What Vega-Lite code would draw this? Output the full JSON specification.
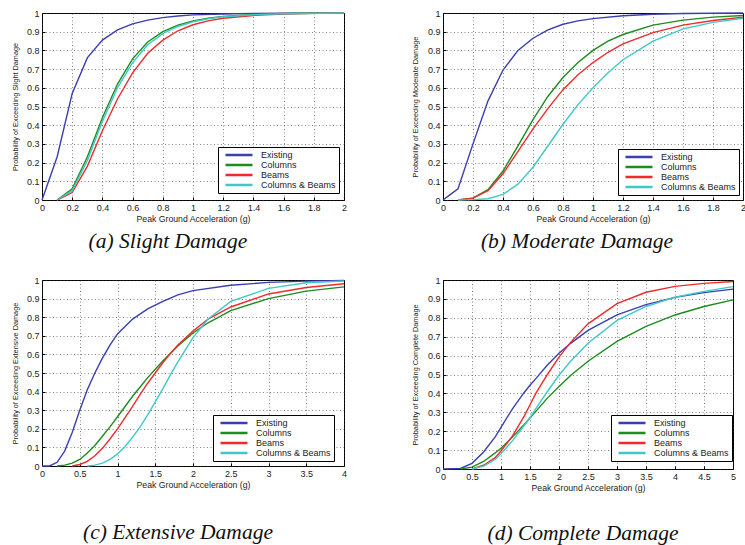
{
  "$schema": "https://vega.github.io/schema/vega-lite/v6.json",
  "background": "white",
  "padding": {"left": 10, "top": 8, "right": 0, "bottom": 0},
  "columns": 2,
  "align": "none",
  "spacing": {"row": 22, "column": 63},
  "datasets": {
    "a": [
      {"x":0,"p":0,"s":"Existing"},{"x":0.1,"p":0.23,"s":"Existing"},{"x":0.2,"p":0.57,"s":"Existing"},{"x":0.3,"p":0.76,"s":"Existing"},{"x":0.4,"p":0.855,"s":"Existing"},{"x":0.5,"p":0.91,"s":"Existing"},{"x":0.6,"p":0.942,"s":"Existing"},{"x":0.7,"p":0.962,"s":"Existing"},{"x":0.8,"p":0.975,"s":"Existing"},{"x":0.9,"p":0.984,"s":"Existing"},{"x":1.0,"p":0.99,"s":"Existing"},{"x":1.2,"p":0.995,"s":"Existing"},{"x":1.4,"p":0.998,"s":"Existing"},{"x":1.6,"p":0.999,"s":"Existing"},{"x":2.0,"p":1.0,"s":"Existing"},
      {"x":0.1,"p":0,"s":"Columns"},{"x":0.2,"p":0.06,"s":"Columns"},{"x":0.3,"p":0.23,"s":"Columns"},{"x":0.4,"p":0.44,"s":"Columns"},{"x":0.5,"p":0.62,"s":"Columns"},{"x":0.6,"p":0.755,"s":"Columns"},{"x":0.7,"p":0.845,"s":"Columns"},{"x":0.8,"p":0.9,"s":"Columns"},{"x":0.9,"p":0.935,"s":"Columns"},{"x":1.0,"p":0.957,"s":"Columns"},{"x":1.1,"p":0.972,"s":"Columns"},{"x":1.2,"p":0.982,"s":"Columns"},{"x":1.4,"p":0.992,"s":"Columns"},{"x":1.6,"p":0.997,"s":"Columns"},{"x":2.0,"p":1.0,"s":"Columns"},
      {"x":0.1,"p":0,"s":"Beams"},{"x":0.2,"p":0.04,"s":"Beams"},{"x":0.3,"p":0.18,"s":"Beams"},{"x":0.4,"p":0.37,"s":"Beams"},{"x":0.5,"p":0.54,"s":"Beams"},{"x":0.6,"p":0.68,"s":"Beams"},{"x":0.7,"p":0.785,"s":"Beams"},{"x":0.8,"p":0.855,"s":"Beams"},{"x":0.9,"p":0.905,"s":"Beams"},{"x":1.0,"p":0.937,"s":"Beams"},{"x":1.1,"p":0.958,"s":"Beams"},{"x":1.2,"p":0.972,"s":"Beams"},{"x":1.4,"p":0.987,"s":"Beams"},{"x":1.6,"p":0.994,"s":"Beams"},{"x":1.8,"p":0.998,"s":"Beams"},{"x":2.0,"p":1.0,"s":"Beams"},
      {"x":0.1,"p":0,"s":"Columns & Beams"},{"x":0.2,"p":0.05,"s":"Columns & Beams"},{"x":0.3,"p":0.21,"s":"Columns & Beams"},{"x":0.4,"p":0.42,"s":"Columns & Beams"},{"x":0.5,"p":0.6,"s":"Columns & Beams"},{"x":0.6,"p":0.735,"s":"Columns & Beams"},{"x":0.7,"p":0.83,"s":"Columns & Beams"},{"x":0.8,"p":0.89,"s":"Columns & Beams"},{"x":0.9,"p":0.928,"s":"Columns & Beams"},{"x":1.0,"p":0.953,"s":"Columns & Beams"},{"x":1.1,"p":0.969,"s":"Columns & Beams"},{"x":1.2,"p":0.98,"s":"Columns & Beams"},{"x":1.4,"p":0.991,"s":"Columns & Beams"},{"x":1.6,"p":0.996,"s":"Columns & Beams"},{"x":2.0,"p":1.0,"s":"Columns & Beams"}
    ],
    "b": [
      {"x":0,"p":0,"s":"Existing"},{"x":0.05,"p":0.03,"s":"Existing"},{"x":0.1,"p":0.06,"s":"Existing"},{"x":0.2,"p":0.3,"s":"Existing"},{"x":0.3,"p":0.53,"s":"Existing"},{"x":0.4,"p":0.695,"s":"Existing"},{"x":0.5,"p":0.8,"s":"Existing"},{"x":0.6,"p":0.865,"s":"Existing"},{"x":0.7,"p":0.91,"s":"Existing"},{"x":0.8,"p":0.94,"s":"Existing"},{"x":0.9,"p":0.958,"s":"Existing"},{"x":1.0,"p":0.97,"s":"Existing"},{"x":1.2,"p":0.985,"s":"Existing"},{"x":1.4,"p":0.993,"s":"Existing"},{"x":1.6,"p":0.997,"s":"Existing"},{"x":2.0,"p":1.0,"s":"Existing"},
      {"x":0.1,"p":0,"s":"Columns"},{"x":0.2,"p":0.01,"s":"Columns"},{"x":0.3,"p":0.055,"s":"Columns"},{"x":0.4,"p":0.155,"s":"Columns"},{"x":0.5,"p":0.29,"s":"Columns"},{"x":0.6,"p":0.43,"s":"Columns"},{"x":0.7,"p":0.555,"s":"Columns"},{"x":0.8,"p":0.655,"s":"Columns"},{"x":0.9,"p":0.735,"s":"Columns"},{"x":1.0,"p":0.8,"s":"Columns"},{"x":1.1,"p":0.85,"s":"Columns"},{"x":1.2,"p":0.885,"s":"Columns"},{"x":1.4,"p":0.935,"s":"Columns"},{"x":1.6,"p":0.962,"s":"Columns"},{"x":1.8,"p":0.978,"s":"Columns"},{"x":2.0,"p":0.987,"s":"Columns"},
      {"x":0.1,"p":0,"s":"Beams"},{"x":0.2,"p":0.01,"s":"Beams"},{"x":0.3,"p":0.05,"s":"Beams"},{"x":0.4,"p":0.14,"s":"Beams"},{"x":0.5,"p":0.26,"s":"Beams"},{"x":0.6,"p":0.38,"s":"Beams"},{"x":0.7,"p":0.49,"s":"Beams"},{"x":0.8,"p":0.59,"s":"Beams"},{"x":0.9,"p":0.67,"s":"Beams"},{"x":1.0,"p":0.735,"s":"Beams"},{"x":1.1,"p":0.79,"s":"Beams"},{"x":1.2,"p":0.835,"s":"Beams"},{"x":1.4,"p":0.895,"s":"Beams"},{"x":1.6,"p":0.935,"s":"Beams"},{"x":1.8,"p":0.96,"s":"Beams"},{"x":2.0,"p":0.977,"s":"Beams"},
      {"x":0.1,"p":0,"s":"Columns & Beams"},{"x":0.2,"p":0.002,"s":"Columns & Beams"},{"x":0.3,"p":0.007,"s":"Columns & Beams"},{"x":0.4,"p":0.03,"s":"Columns & Beams"},{"x":0.5,"p":0.085,"s":"Columns & Beams"},{"x":0.6,"p":0.175,"s":"Columns & Beams"},{"x":0.7,"p":0.29,"s":"Columns & Beams"},{"x":0.8,"p":0.405,"s":"Columns & Beams"},{"x":0.9,"p":0.51,"s":"Columns & Beams"},{"x":1.0,"p":0.6,"s":"Columns & Beams"},{"x":1.1,"p":0.68,"s":"Columns & Beams"},{"x":1.2,"p":0.75,"s":"Columns & Beams"},{"x":1.4,"p":0.85,"s":"Columns & Beams"},{"x":1.6,"p":0.915,"s":"Columns & Beams"},{"x":1.8,"p":0.95,"s":"Columns & Beams"},{"x":2.0,"p":0.972,"s":"Columns & Beams"}
    ],
    "c": [
      {"x":0,"p":0,"s":"Existing"},{"x":0.1,"p":0,"s":"Existing"},{"x":0.2,"p":0.02,"s":"Existing"},{"x":0.3,"p":0.08,"s":"Existing"},{"x":0.4,"p":0.18,"s":"Existing"},{"x":0.5,"p":0.3,"s":"Existing"},{"x":0.6,"p":0.41,"s":"Existing"},{"x":0.7,"p":0.5,"s":"Existing"},{"x":0.8,"p":0.58,"s":"Existing"},{"x":0.9,"p":0.65,"s":"Existing"},{"x":1.0,"p":0.71,"s":"Existing"},{"x":1.2,"p":0.79,"s":"Existing"},{"x":1.4,"p":0.845,"s":"Existing"},{"x":1.6,"p":0.885,"s":"Existing"},{"x":1.8,"p":0.92,"s":"Existing"},{"x":2.0,"p":0.943,"s":"Existing"},{"x":2.5,"p":0.972,"s":"Existing"},{"x":3.0,"p":0.987,"s":"Existing"},{"x":3.5,"p":0.994,"s":"Existing"},{"x":4.0,"p":0.997,"s":"Existing"},
      {"x":0.2,"p":0,"s":"Columns"},{"x":0.3,"p":0.005,"s":"Columns"},{"x":0.4,"p":0.015,"s":"Columns"},{"x":0.5,"p":0.035,"s":"Columns"},{"x":0.6,"p":0.07,"s":"Columns"},{"x":0.7,"p":0.11,"s":"Columns"},{"x":0.8,"p":0.16,"s":"Columns"},{"x":0.9,"p":0.21,"s":"Columns"},{"x":1.0,"p":0.265,"s":"Columns"},{"x":1.1,"p":0.32,"s":"Columns"},{"x":1.2,"p":0.375,"s":"Columns"},{"x":1.3,"p":0.425,"s":"Columns"},{"x":1.4,"p":0.475,"s":"Columns"},{"x":1.5,"p":0.52,"s":"Columns"},{"x":1.6,"p":0.565,"s":"Columns"},{"x":1.7,"p":0.605,"s":"Columns"},{"x":1.8,"p":0.645,"s":"Columns"},{"x":2.0,"p":0.715,"s":"Columns"},{"x":2.2,"p":0.77,"s":"Columns"},{"x":2.5,"p":0.835,"s":"Columns"},{"x":3.0,"p":0.9,"s":"Columns"},{"x":3.5,"p":0.94,"s":"Columns"},{"x":4.0,"p":0.963,"s":"Columns"},
      {"x":0.4,"p":0,"s":"Beams"},{"x":0.5,"p":0.008,"s":"Beams"},{"x":0.6,"p":0.025,"s":"Beams"},{"x":0.7,"p":0.055,"s":"Beams"},{"x":0.8,"p":0.095,"s":"Beams"},{"x":0.9,"p":0.145,"s":"Beams"},{"x":1.0,"p":0.2,"s":"Beams"},{"x":1.1,"p":0.26,"s":"Beams"},{"x":1.2,"p":0.32,"s":"Beams"},{"x":1.3,"p":0.385,"s":"Beams"},{"x":1.4,"p":0.445,"s":"Beams"},{"x":1.5,"p":0.5,"s":"Beams"},{"x":1.6,"p":0.555,"s":"Beams"},{"x":1.7,"p":0.605,"s":"Beams"},{"x":1.8,"p":0.65,"s":"Beams"},{"x":2.0,"p":0.725,"s":"Beams"},{"x":2.2,"p":0.79,"s":"Beams"},{"x":2.5,"p":0.855,"s":"Beams"},{"x":3.0,"p":0.925,"s":"Beams"},{"x":3.5,"p":0.96,"s":"Beams"},{"x":4.0,"p":0.98,"s":"Beams"},
      {"x":0.6,"p":0,"s":"Columns & Beams"},{"x":0.7,"p":0.005,"s":"Columns & Beams"},{"x":0.8,"p":0.015,"s":"Columns & Beams"},{"x":0.9,"p":0.035,"s":"Columns & Beams"},{"x":1.0,"p":0.065,"s":"Columns & Beams"},{"x":1.1,"p":0.105,"s":"Columns & Beams"},{"x":1.2,"p":0.155,"s":"Columns & Beams"},{"x":1.3,"p":0.21,"s":"Columns & Beams"},{"x":1.4,"p":0.275,"s":"Columns & Beams"},{"x":1.5,"p":0.345,"s":"Columns & Beams"},{"x":1.6,"p":0.415,"s":"Columns & Beams"},{"x":1.7,"p":0.49,"s":"Columns & Beams"},{"x":1.8,"p":0.56,"s":"Columns & Beams"},{"x":2.0,"p":0.69,"s":"Columns & Beams"},{"x":2.2,"p":0.79,"s":"Columns & Beams"},{"x":2.5,"p":0.885,"s":"Columns & Beams"},{"x":3.0,"p":0.955,"s":"Columns & Beams"},{"x":3.5,"p":0.985,"s":"Columns & Beams"},{"x":4.0,"p":0.995,"s":"Columns & Beams"}
    ],
    "d": [
      {"x":0,"p":0,"s":"Existing"},{"x":0.3,"p":0.003,"s":"Existing"},{"x":0.5,"p":0.03,"s":"Existing"},{"x":0.7,"p":0.09,"s":"Existing"},{"x":0.9,"p":0.17,"s":"Existing"},{"x":1.0,"p":0.22,"s":"Existing"},{"x":1.2,"p":0.32,"s":"Existing"},{"x":1.4,"p":0.405,"s":"Existing"},{"x":1.5,"p":0.443,"s":"Existing"},{"x":1.6,"p":0.478,"s":"Existing"},{"x":1.8,"p":0.55,"s":"Existing"},{"x":2.0,"p":0.612,"s":"Existing"},{"x":2.2,"p":0.665,"s":"Existing"},{"x":2.5,"p":0.733,"s":"Existing"},{"x":3.0,"p":0.815,"s":"Existing"},{"x":3.5,"p":0.87,"s":"Existing"},{"x":4.0,"p":0.908,"s":"Existing"},{"x":4.5,"p":0.933,"s":"Existing"},{"x":5.0,"p":0.952,"s":"Existing"},
      {"x":0.3,"p":0,"s":"Columns"},{"x":0.5,"p":0.01,"s":"Columns"},{"x":0.7,"p":0.04,"s":"Columns"},{"x":0.9,"p":0.085,"s":"Columns"},{"x":1.0,"p":0.11,"s":"Columns"},{"x":1.2,"p":0.17,"s":"Columns"},{"x":1.4,"p":0.235,"s":"Columns"},{"x":1.5,"p":0.27,"s":"Columns"},{"x":1.6,"p":0.305,"s":"Columns"},{"x":1.8,"p":0.375,"s":"Columns"},{"x":2.0,"p":0.437,"s":"Columns"},{"x":2.2,"p":0.495,"s":"Columns"},{"x":2.5,"p":0.57,"s":"Columns"},{"x":3.0,"p":0.675,"s":"Columns"},{"x":3.5,"p":0.755,"s":"Columns"},{"x":4.0,"p":0.815,"s":"Columns"},{"x":4.5,"p":0.86,"s":"Columns"},{"x":5.0,"p":0.895,"s":"Columns"},
      {"x":0.5,"p":0,"s":"Beams"},{"x":0.7,"p":0.02,"s":"Beams"},{"x":0.9,"p":0.06,"s":"Beams"},{"x":1.0,"p":0.095,"s":"Beams"},{"x":1.2,"p":0.175,"s":"Beams"},{"x":1.4,"p":0.28,"s":"Beams"},{"x":1.5,"p":0.34,"s":"Beams"},{"x":1.6,"p":0.4,"s":"Beams"},{"x":1.8,"p":0.5,"s":"Beams"},{"x":2.0,"p":0.592,"s":"Beams"},{"x":2.2,"p":0.67,"s":"Beams"},{"x":2.5,"p":0.768,"s":"Beams"},{"x":3.0,"p":0.875,"s":"Beams"},{"x":3.5,"p":0.935,"s":"Beams"},{"x":4.0,"p":0.966,"s":"Beams"},{"x":4.5,"p":0.982,"s":"Beams"},{"x":5.0,"p":0.992,"s":"Beams"},
      {"x":0.5,"p":0,"s":"Columns & Beams"},{"x":0.7,"p":0.015,"s":"Columns & Beams"},{"x":0.9,"p":0.05,"s":"Columns & Beams"},{"x":1.0,"p":0.08,"s":"Columns & Beams"},{"x":1.2,"p":0.15,"s":"Columns & Beams"},{"x":1.4,"p":0.23,"s":"Columns & Beams"},{"x":1.5,"p":0.27,"s":"Columns & Beams"},{"x":1.6,"p":0.32,"s":"Columns & Beams"},{"x":1.8,"p":0.41,"s":"Columns & Beams"},{"x":2.0,"p":0.496,"s":"Columns & Beams"},{"x":2.2,"p":0.57,"s":"Columns & Beams"},{"x":2.5,"p":0.665,"s":"Columns & Beams"},{"x":3.0,"p":0.786,"s":"Columns & Beams"},{"x":3.5,"p":0.86,"s":"Columns & Beams"},{"x":4.0,"p":0.909,"s":"Columns & Beams"},{"x":4.5,"p":0.94,"s":"Columns & Beams"},{"x":5.0,"p":0.965,"s":"Columns & Beams"}
    ]
  },
  "resolve": {"scale": {"x": "independent", "y": "independent", "color": "independent"}, "legend": {"color": "independent"}},
  "concat": [
    {
      "width": 302, "height": 187,
      "data": {"name": "a"},
      "mark": {"type": "line", "strokeWidth": 1.4},
      "encoding": {
        "x": {"field": "x", "type": "quantitative", "scale": {"domain": [0, 2], "nice": false}, "axis": {"title": "Peak Ground Acceleration (g)", "values": [0,0.2,0.4,0.6,0.8,1,1.2,1.4,1.6,1.8,2]}},
        "y": {"field": "p", "type": "quantitative", "scale": {"domain": [0, 1], "nice": false}, "axis": {"title": "Probability of Exceeding Slight Damage", "titlePadding": 7, "values": [0,0.1,0.2,0.3,0.4,0.5,0.6,0.7,0.8,0.9,1]}},
        "color": {"field": "s", "type": "nominal", "scale": {"domain": ["Existing", "Columns", "Beams", "Columns & Beams"], "range": ["#3a3fb0", "#1d8c1d", "#ee2b2b", "#40c8c8"]}, "legend": {"title": null, "legendX": 176, "legendY": 134}}
      },
      "title": {"text": "(a) Slight Damage", "dx": -25, "offset": 8}
    },
    {
      "width": 300, "height": 187,
      "data": {"name": "b"},
      "mark": {"type": "line", "strokeWidth": 1.4},
      "encoding": {
        "x": {"field": "x", "type": "quantitative", "scale": {"domain": [0, 2], "nice": false}, "axis": {"title": "Peak Ground Acceleration (g)", "values": [0,0.2,0.4,0.6,0.8,1,1.2,1.4,1.6,1.8,2]}},
        "y": {"field": "p", "type": "quantitative", "scale": {"domain": [0, 1], "nice": false}, "axis": {"title": "Probability of Exceeding Moderate Damage", "titlePadding": 7.7, "values": [0,0.1,0.2,0.3,0.4,0.5,0.6,0.7,0.8,0.9,1]}},
        "color": {"field": "s", "type": "nominal", "scale": {"domain": ["Existing", "Columns", "Beams", "Columns & Beams"], "range": ["#3a3fb0", "#1d8c1d", "#ee2b2b", "#40c8c8"]}, "legend": {"title": null, "legendX": 175, "legendY": 136}}
      },
      "title": {"text": "(b) Moderate Damage", "dx": -16, "offset": 8}
    },
    {
      "width": 302, "height": 186,
      "data": {"name": "c"},
      "mark": {"type": "line", "strokeWidth": 1.4},
      "encoding": {
        "x": {"field": "x", "type": "quantitative", "scale": {"domain": [0, 4], "nice": false}, "axis": {"title": "Peak Ground Acceleration (g)", "values": [0,0.5,1,1.5,2,2.5,3,3.5,4]}},
        "y": {"field": "p", "type": "quantitative", "scale": {"domain": [0, 1], "nice": false}, "axis": {"title": "Probability of Exceeding Extensive Damage", "titlePadding": 7, "values": [0,0.1,0.2,0.3,0.4,0.5,0.6,0.7,0.8,0.9,1]}},
        "color": {"field": "s", "type": "nominal", "scale": {"domain": ["Existing", "Columns", "Beams", "Columns & Beams"], "range": ["#3a3fb0", "#1d8c1d", "#ee2b2b", "#40c8c8"]}, "legend": {"title": null, "legendX": 171, "legendY": 135}}
      },
      "title": {"text": "(c) Extensive Damage", "dx": -15, "offset": 33}
    },
    {
      "width": 290, "height": 189,
      "data": {"name": "d"},
      "mark": {"type": "line", "strokeWidth": 1.4},
      "encoding": {
        "x": {"field": "x", "type": "quantitative", "scale": {"domain": [0, 5], "nice": false}, "axis": {"title": "Peak Ground Acceleration (g)", "values": [0,0.5,1,1.5,2,2.5,3,3.5,4,4.5,5]}},
        "y": {"field": "p", "type": "quantitative", "scale": {"domain": [0, 1], "nice": false}, "axis": {"title": "Probability of Exceeding Complete Damage", "titlePadding": 7.7, "values": [0,0.1,0.2,0.3,0.4,0.5,0.6,0.7,0.8,0.9,1]}},
        "color": {"field": "s", "type": "nominal", "scale": {"domain": ["Existing", "Columns", "Beams", "Columns & Beams"], "range": ["#3a3fb0", "#1d8c1d", "#ee2b2b", "#40c8c8"]}, "legend": {"title": null, "legendX": 168, "legendY": 135}}
      },
      "title": {"text": "(d) Complete Damage", "dx": -5, "offset": 31}
    }
  ],
  "config": {
    "view": {"stroke": "#000", "strokeWidth": 1},
    "axis": {
      "grid": true, "gridDash": [1, 2.5], "gridColor": "#333", "gridOpacity": 0.75, "gridWidth": 0.8,
      "domain": false, "ticks": true, "tickSize": -3, "tickColor": "#000", "labelPadding": 6,
      "labelFont": "Liberation Sans", "labelFontSize": 9, "labelColor": "#222",
      "titleFont": "Liberation Sans", "titleFontWeight": "normal", "titleColor": "#222"
    },
    "axisX": {"titleFontSize": 8.7, "titlePadding": 2, "labelFlush": false, "labelOverlap": false, "format": "~g"},
    "axisY": {"titleFontSize": 7.3, "format": "~g", "labelOverlap": false, "labelFlush": false},
    "legend": {
      "orient": "none", "strokeColor": "#000", "fillColor": "white", "padding": 3,
      "symbolType": "stroke", "symbolSize": 729, "symbolStrokeWidth": 2.5, "symbolOffset": 3,
      "labelFont": "Liberation Sans", "labelFontSize": 9, "labelColor": "#222", "labelOffset": 7,
      "clipHeight": 10, "rowPadding": 0
    },
    "title": {"orient": "bottom", "anchor": "middle", "frame": "group", "font": "Liberation Serif", "fontStyle": "italic", "fontWeight": "normal", "fontSize": 21.5, "color": "#111"}
  }
}
